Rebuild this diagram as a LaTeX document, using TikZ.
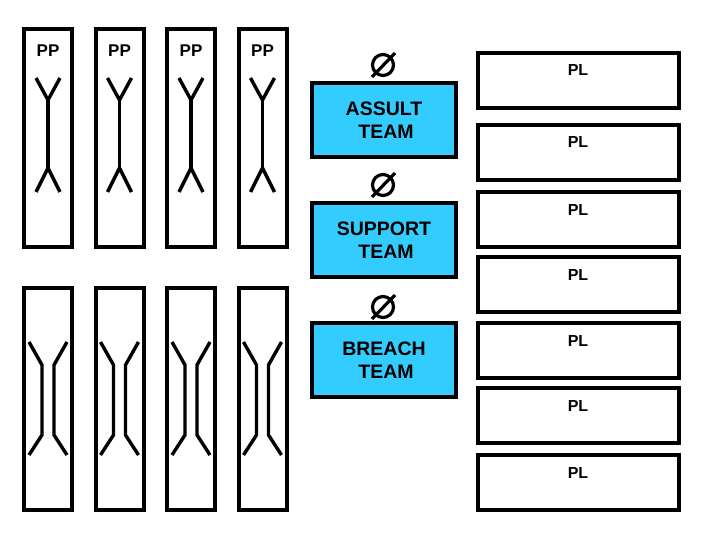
\documentclass[tikz,border=0pt]{standalone}
\usepackage{fontspec}
\setmainfont{Liberation Sans}
\definecolor{teamblue}{HTML}{33CCFF}
\begin{document}
\begin{tikzpicture}[x=1pt,y=-1pt,
  ppbox/.style={draw,line width=4pt,minimum width=48pt,minimum height=218pt,inner sep=0pt},
  ppbox2/.style={draw,line width=4pt,minimum width=48pt,minimum height=222pt,inner sep=0pt},
  plbox/.style={draw,line width=4pt,minimum width=201pt,minimum height=55pt,inner sep=0pt},
  teambox/.style={draw,fill=teamblue,line width=4pt,minimum width=144pt,minimum height=74pt,inner sep=0pt,align=center,font=\fontsize{19.5}{23}\selectfont\bfseries},
  lbl/.style={anchor=base,inner sep=0pt,font=\fontsize{17}{20}\selectfont\bfseries},
  pllbl/.style={anchor=base,inner sep=0pt,font=\fontsize{16}{19}\selectfont\bfseries},
  sym/.style={line width=3.4pt},
  nullsym/.style={line width=3.2pt}]
\useasboundingbox (0,0) rectangle (720,540);
% PP boxes
\foreach \c [count=\i] in {48,119.5,191,262.5}{
  \node[ppbox] (pp\i) at (\c,138) {};
  \node[lbl] (ppt\i) at (\c,57) {PP};
  \draw[sym] (\c-12,78) -- (\c,100) -- (\c+12,78);
  \draw[sym] (\c,100) -- (\c,168);
  \draw[sym] (\c-12,192) -- (\c,168) -- (\c+12,192);
  \node[ppbox2] (pb\i) at (\c,399) {};
  \draw[sym] (\c-19,342) -- (\c-6,365) -- (\c-6,435) -- (\c-19,455);
  \draw[sym] (\c+19,342) -- (\c+6,365) -- (\c+6,435) -- (\c+19,455);
}
% team boxes
\node[teambox] (assult) at (384,120) {ASSULT\\\hspace*{4pt}TEAM};
\node[teambox] (support) at (384,240) {SUPPORT\\\hspace*{4pt}TEAM};
\node[teambox] (breach) at (384,360) {BREACH\\\hspace*{4pt}TEAM};
\foreach \y [count=\i] in {65,185,307}{
  \node[draw,circle,nullsym,minimum size=21pt,inner sep=0pt] (null\i) at (383,\y) {};
  \draw[nullsym] (372,\y+12) -- (395,\y-12);
}
% PL boxes
\foreach \t [count=\i] in {53,125,192,257,323,388,455}{
  \node[plbox] (pl\i) at (578.5,\t+27.5) {};
  \node[pllbl] (plt\i) at (578,\t+23) {PL};
}
\end{tikzpicture}
\end{document}
